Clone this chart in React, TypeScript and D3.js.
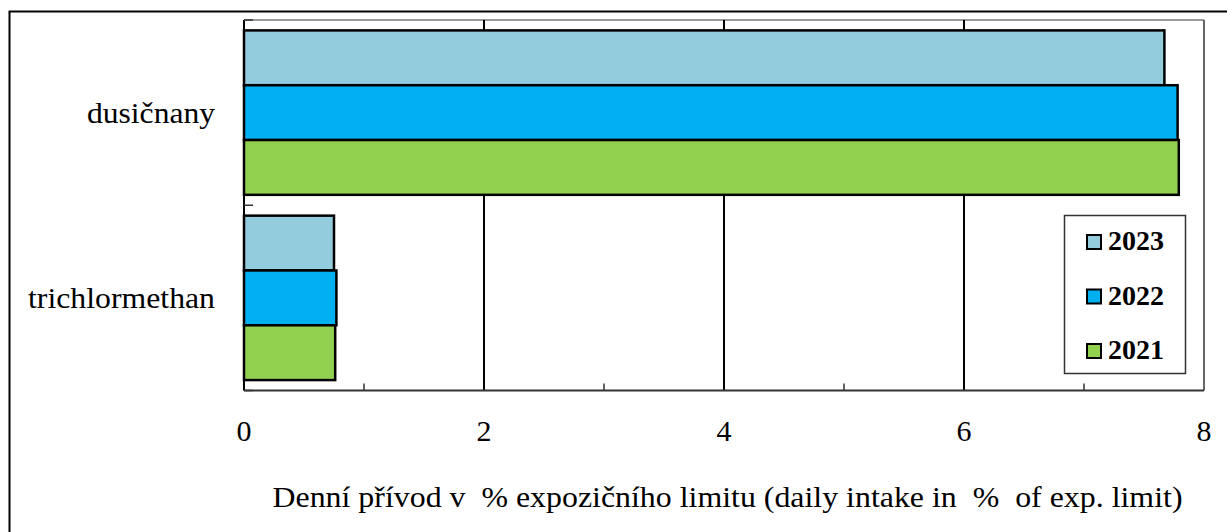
import React from "react";
import * as d3 from "d3";

const categories = ["dusičnany", "trichlormethan"];
const categoryLabelWidths = [128, 187];
const years = ["2023", "2022", "2021"];
const values2023 = [7.67, 0.75];
const values2022 = [7.78, 0.77];
const values2021 = [7.79, 0.76];
const xTicks = [0, 2, 4, 6, 8];
const xMinorTicks = [1, 3, 5, 7];
const colors = ["#93CDDD", "#00B0F0", "#92D050"];
const axisTitle = "Denní přívod v  % expozičního limitu (daily intake in  %  of exp. limit)";

const W = 1227;
const H = 532;
const FONT = "'Liberation Serif', 'Times New Roman', Tinos, 'DejaVu Serif', serif";

export default function App() {
  const left = 244, right = 1204, top = 20, bottom = 390.5;
  const x = d3.scaleLinear().domain([0, 8]).range([left, right]);
  const y = d3.scaleBand<string>().domain(categories).range([top, bottom]).paddingInner(0).paddingOuter(0);
  const inner = d3.scaleBand<string>().domain(years).range([0, y.bandwidth()]).paddingInner(0).paddingOuter(0.19);
  const series = [values2023, values2022, values2021];

  const boundaries = categories.map((c) => (y(c) as number)).concat([bottom]);
  const txt = (size: number, bold = false) =>
    bold ? { fontFamily: FONT, fontSize: size, fontWeight: 700 } : { fontFamily: FONT, fontSize: size };

  return (
    <svg width={W} height={H} style={{ position: "absolute", left: 0, top: 0, background: "#fff" }}>
      <rect x={9.5} y={11.5} width={1260} height={560} fill="#fff" stroke="#000" strokeWidth={2} />
      {/* plot border */}
      <line x1={left} x2={right} y1={top} y2={top} stroke="#777" strokeWidth={1.5} />
      <line x1={right} x2={right} y1={top} y2={bottom} stroke="#333" strokeWidth={1.5} />
      {/* gridlines */}
      {xTicks.filter((t) => t > 0 && t < 8).map((t) => (
        <line key={t} x1={x(t)} x2={x(t)} y1={top} y2={bottom} stroke="#000" strokeWidth={2} />
      ))}
      {/* bars */}
      {categories.map((c, ci) =>
        years.map((yr, si) => {
          const y0 = (y(c) as number) + (inner(yr) as number);
          return (
            <rect
              key={c + yr}
              x={x(0)}
              y={y0}
              width={x(series[si][ci]) - x(0)}
              height={inner.bandwidth()}
              fill={colors[si]}
              stroke="#000"
              strokeWidth={2.5}
            />
          );
        })
      )}
      {/* bottom axis */}
      <line x1={left} x2={right} y1={bottom} y2={bottom} stroke="#333" strokeWidth={2} />
      {xMinorTicks.map((t) => (
        <line key={t} x1={x(t)} x2={x(t)} y1={bottom} y2={bottom - 7} stroke="#333" strokeWidth={1.5} />
      ))}
      {/* left axis */}
      <line x1={left} x2={left} y1={top} y2={bottom} stroke="#000" strokeWidth={2} />
      {boundaries.map((b, i) => (
        <line key={i} x1={left} x2={left + 9} y1={b} y2={b} stroke="#333" strokeWidth={1.5} />
      ))}
      {/* tick labels */}
      {xTicks.map((t) => (
        <text key={t} x={x(t)} y={441} textAnchor="middle" fill="#000" style={txt(30)}>
          {t}
        </text>
      ))}
      {categories.map((c, i) => (
        <text
          key={c}
          x={215}
          y={(y(c) as number) + y.bandwidth() / 2 + 10}
          textAnchor="end"
          fill="#000"
          textLength={categoryLabelWidths[i]}
          lengthAdjust="spacingAndGlyphs"
          style={txt(30)}
        >
          {c}
        </text>
      ))}
      <text
        x={727.5}
        y={507}
        textAnchor="middle"
        fill="#000"
        xmlSpace="preserve"
        textLength={910}
        lengthAdjust="spacingAndGlyphs"
        style={{ ...txt(29), whiteSpace: "pre" }}
      >
        {axisTitle}
      </text>
      {/* legend */}
      <rect x={1064.5} y={215.5} width={121} height={158} fill="#fff" stroke="#333" strokeWidth={1.5} />
      {years.map((yr, i) => {
        const cy = 242 + i * 54.5;
        return (
          <g key={yr}>
            <rect x={1087} y={cy - 7} width={14} height={14} fill={colors[i]} stroke="#000" strokeWidth={2} />
            <text
              x={1108}
              y={cy + 8}
              fill="#000"
              textLength={56}
              lengthAdjust="spacingAndGlyphs"
              style={txt(27, true)}
            >
              {yr}
            </text>
          </g>
        );
      })}
    </svg>
  );
}
